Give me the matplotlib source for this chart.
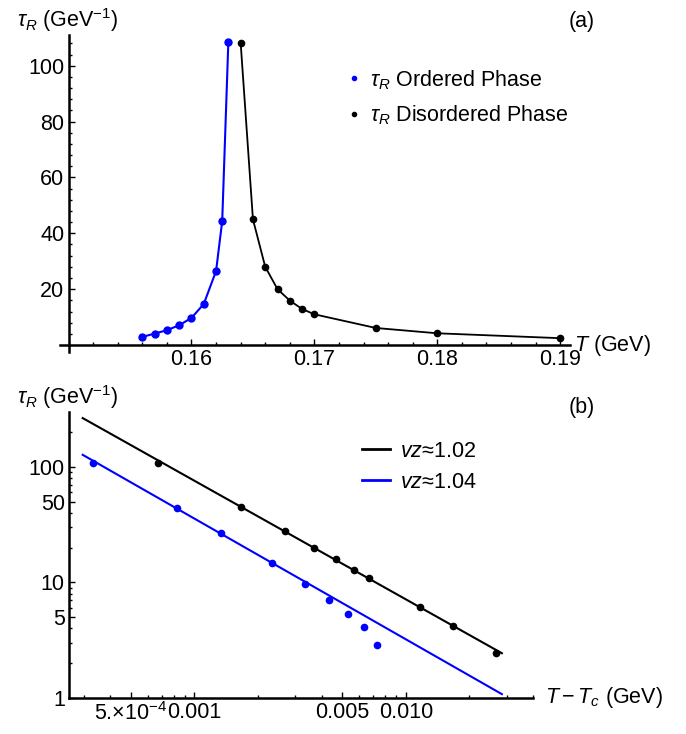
import matplotlib
matplotlib.use("Agg")
import matplotlib.pyplot as plt
import numpy as np
from matplotlib.lines import Line2D
from matplotlib.ticker import FixedLocator, FixedFormatter, NullFormatter

plt.rcParams['font.family'] = ['Liberation Sans', 'DejaVu Sans']
plt.rcParams['mathtext.fontset'] = 'custom'
plt.rcParams['mathtext.rm'] = 'Liberation Sans'
plt.rcParams['mathtext.it'] = 'Liberation Sans:italic'
plt.rcParams['axes.unicode_minus'] = True

# ---- data ----
T_ord = [0.156, 0.157, 0.158, 0.159, 0.160, 0.161, 0.162, 0.1625, 0.163]
tau_ord = [2.9, 4.1, 5.3, 7.1, 9.7, 14.7, 26.5, 44.4, 108.6]
T_dis = [0.164, 0.165, 0.166, 0.167, 0.168, 0.169, 0.170, 0.175, 0.180, 0.190]
tau_dis = [108.2, 45.0, 28.0, 20.0, 15.9, 12.9, 11.0, 6.1, 4.2, 2.45]
Tc = 0.16333

# power-law fit lines (end points)
fit_x = [2.96e-4, 0.0285]
fit_dis = [264.0, 2.44]
fit_ord = [127.0, 1.08]

blue = (0.0, 0.0, 1.0)
black = (0.0, 0.0, 0.0)
fs = 15.5

fig = plt.figure(figsize=(6.86, 7.34), dpi=100)
W, H = 686.0, 734.0


def px_axes(x0, y0, x1, y1):
    return fig.add_axes([x0 / W, 1 - y1 / H, (x1 - x0) / W, (y1 - y0) / H])


def style(ax):
    for s in ['top', 'right']:
        ax.spines[s].set_visible(False)
    for s in ['left', 'bottom']:
        ax.spines[s].set_linewidth(1.8)
    ax.tick_params(which='both', direction='in', labelsize=fs, width=1.0)
    ax.tick_params(which='major', length=4.5, pad=3)
    ax.tick_params(which='minor', length=2.5)


# -----------------------------
# (a) linear panel
# -----------------------------
ax1 = px_axes(60, 35, 570, 352)
style(ax1)
ax1.plot(T_ord, tau_ord, '-o', color=blue, lw=1.5, ms=5)
ax1.plot(T_dis, tau_dis, '-o', color=black, lw=1.3, ms=4.5)
ax1.set_xlim(0.1493, 0.1908)
ax1.set_ylim(-2.5, 111)
ax1.spines['left'].set_position(('data', 0.15))
ax1.spines['bottom'].set_position(('data', 0))
ax1.set_xticks([0.16, 0.17, 0.18, 0.19])
ax1.set_xticklabels(['0.16', '0.17', '0.18', '0.19'])
ax1.set_xticks(np.arange(0.150, 0.1905, 0.002), minor=True)
ax1.set_yticks([20, 40, 60, 80, 100])
ax1.set_yticks(np.arange(4, 111, 4), minor=True)

leg1 = ax1.legend(
    [Line2D([], [], marker='o', ls='', color=blue, ms=3),
     Line2D([], [], marker='o', ls='', color=black, ms=3)],
    [r'$\tau_R$ Ordered Phase', r'$\tau_R$ Disordered Phase'],
    loc='upper left', bbox_to_anchor=(348 / W, 1 - 68 / H),
    bbox_transform=fig.transFigure, frameon=False, fontsize=fs,
    handlelength=0.6, handletextpad=0.4, labelspacing=0.55,
    borderaxespad=0, borderpad=0)

fig.text(17 / W, 1 - 20 / H, r'$\tau_R$ (GeV$^{-1}$)', fontsize=fs,
         ha='left', va='center')
fig.text(582 / W, 1 - 22 / H, '(a)', fontsize=fs, ha='center', va='center')
fig.text(574 / W, 1 - 346 / H, r'$T$ (GeV)', fontsize=fs, ha='left',
         va='center')

# -----------------------------
# (b) log-log panel
# -----------------------------
ax2 = px_axes(69, 412, 533, 698)
style(ax2)
ax2.set_xscale('log')
ax2.set_yscale('log')
x_ord = [Tc - t for t in T_ord]
x_dis = [t - Tc for t in T_dis]
ax2.plot(fit_x, fit_dis, '-', color=black, lw=1.5)
ax2.plot(fit_x, fit_ord, '-', color=blue, lw=1.5)
ax2.plot(x_dis, tau_dis, 'o', color=black, ms=4.5)
ax2.plot(x_ord, tau_ord, 'o', color=blue, ms=4.5)
ax2.set_xlim(2.55e-4, 0.0400)
ax2.set_ylim(1, 298)

xmaj = [5e-4, 1e-3, 5e-3, 1e-2]
ax2.xaxis.set_major_locator(FixedLocator(xmaj))
ax2.xaxis.set_major_formatter(FixedFormatter(
    [r'5.$\times$10$^{-4}$', '0.001', '0.005', '0.010']))
xmin_t = [3e-4, 4e-4, 6e-4, 7e-4, 8e-4, 9e-4, 2e-3, 3e-3, 4e-3, 6e-3,
          7e-3, 8e-3, 9e-3, 2e-2, 3e-2, 4e-2]
ax2.xaxis.set_minor_locator(FixedLocator(xmin_t))
ax2.xaxis.set_minor_formatter(NullFormatter())
ymaj = [1, 5, 10, 50, 100]
ax2.yaxis.set_major_locator(FixedLocator(ymaj))
ax2.yaxis.set_major_formatter(FixedFormatter(['1', '5', '10', '50', '100']))
ymin_t = [2, 3, 4, 6, 7, 8, 9, 20, 30, 40, 60, 70, 80, 90, 200]
ax2.yaxis.set_minor_locator(FixedLocator(ymin_t))
ax2.yaxis.set_minor_formatter(NullFormatter())

leg2 = ax2.legend(
    [Line2D([], [], color=black, lw=2), Line2D([], [], color=blue, lw=2)],
    [r'$vz$≈1.02', r'$vz$≈1.04'],
    loc='upper left', bbox_to_anchor=(362 / W, 1 - 441 / H),
    bbox_transform=fig.transFigure, frameon=False, fontsize=fs,
    handlelength=1.3, handletextpad=0.45, labelspacing=0.45,
    borderaxespad=0, borderpad=0)

fig.text(17 / W, 1 - 397 / H, r'$\tau_R$ (GeV$^{-1}$)', fontsize=fs,
         ha='left', va='center')
fig.text(582 / W, 1 - 407 / H, '(b)', fontsize=fs, ha='center', va='center')
fig.text(545 / W, 1 - 698 / H, r'$T-T_c$ (GeV)', fontsize=fs, ha='left',
         va='center')

fig.savefig('out.png', dpi=100)
